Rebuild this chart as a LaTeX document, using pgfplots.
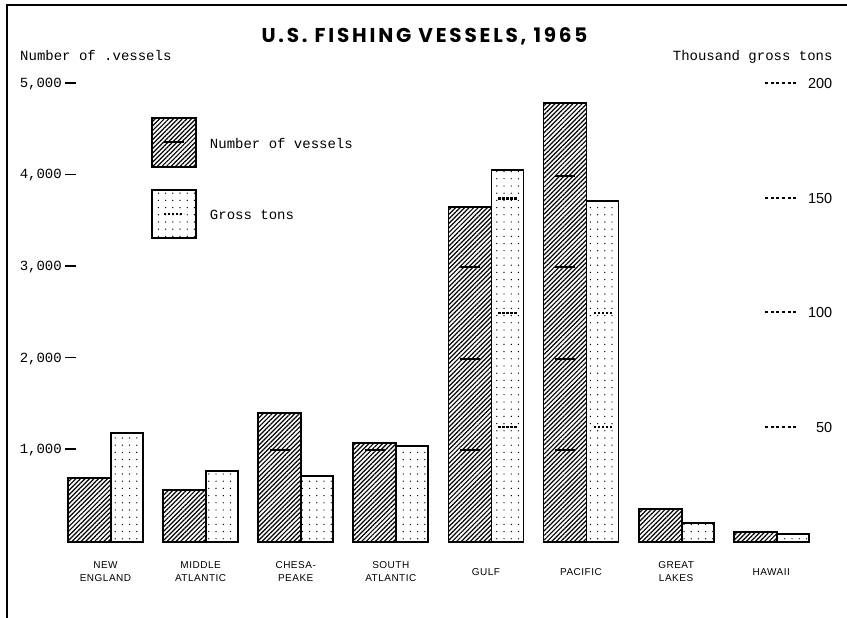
\documentclass[border=0pt]{standalone}
\usepackage{fontspec}
\usepackage{pgfplots}
\pgfplotsset{compat=1.18}
\usetikzlibrary{patterns.meta}
\newfontfamily\monofont{Liberation Mono}
\newfontfamily\sansfont{Liberation Sans}
\newfontfamily\catfont{Liberation Sans}[LetterSpace=5]
\newfontfamily\titlefont{Poppins}[LetterSpace=14]
\newcommand\monof{\monofont\fontsize{14bp}{16bp}\selectfont}
\newcommand\catf{\catfont\fontsize{10bp}{13.3bp}\selectfont}
\newcommand\rnumf{\sansfont\fontsize{14.5bp}{16bp}\selectfont}
\newcommand\ldash{\hspace{3bp}\rule[3.8bp]{11bp}{1.6bp}}
\newcommand\rdot{\rule[4.5bp]{2.8bp}{2.2bp}\hspace{2.84bp}}
\newcommand\rdots{\rdot\rdot\rdot\rdot\rdot\rule[4.5bp]{2.8bp}{2.2bp}}
\newcommand\rlab[1]{\makebox[67bp]{\rdots\hfill#1}}
\tikzset{
  hatchbar/.style={draw=black, line width=1.8bp, pattern={Lines[angle=45,distance=3.2bp,line width=1.2bp]}, pattern color=black},
  dotbar/.style={draw=black, line width=1.8bp, pattern={Dots[distance=7.2bp,radius=0.7bp]}, pattern color=black},
}
\pgfplotsset{
  common/.style={
    scale only axis, width=736bp, height=457.7bp,
    at={(76bp,76.3bp)}, anchor=south west,
    xmin=-0.36803, xmax=7.37119, ymin=0, clip=false,
    axis line style={draw=none}, major tick length=0pt,
    ybar,
  },
}
\begin{document}
\begin{tikzpicture}
\begin{axis}[common,
  ymax=5000,
  ytick={1000,2000,3000,4000,5000},
  yticklabels={{1,000\ldash},{2,000\ldash},{3,000\ldash},{4,000\ldash},{5,000\ldash}},
  yticklabel style={font=\monof, anchor=east, inner sep=0pt},
  xtick={0,1,2,3,4,5,6,7},
  xticklabels={{NEW\\ENGLAND},{MIDDLE\\ATLANTIC},{CHESA-\\PEAKE},{SOUTH\\ATLANTIC},{GULF},{PACIFIC},{GREAT\\LAKES},{HAWAII}},
  xticklabel style={font=\catf, align=center, anchor=center, inner sep=0pt, xshift=-5.5bp, yshift=-30bp},
]
\addplot[hatchbar, bar width=43bp, bar shift=-21.5bp] coordinates {
  (0,693) (1,565) (2,1406) (3,1075) (4,3660) (5,4796) (6,357) (7,103)};
\addplot[only marks, mark=-, mark size=10bp, mark options={line width=2bp, black}] coordinates {
  (1.7739,1000) (2.7739,1000) (3.7739,1000) (3.7739,2000) (3.7739,3000)
  (4.7739,1000) (4.7739,2000) (4.7739,3000) (4.7739,4000)};
\end{axis}
\begin{axis}[common,
  ymax=200,
  ytick={50,100,150,200},
  yticklabels={\rlab{50},\rlab{100},\rlab{150},\rlab{200}},
  yticklabel pos=right,
  yticklabel style={font=\rnumf, anchor=west, inner sep=0pt, xshift=-47bp},
  xtick=\empty,
  legend cell align=left,
  legend style={at={(rel axis cs:0.10190,0.9279)}, anchor=north west, draw=none, fill=none,
    inner sep=0pt, row sep=21.3bp, column sep=13bp, font=\monof, nodes={inner sep=0pt}},
]
\addplot[dotbar, bar width=32bp, bar shift=16bp, forget plot] coordinates {
  (0,47.4) (1,30.9) (2,28.8) (3,41.9) (4,162.4) (5,149.0) (6,8.0) (7,3.5)};
\addplot[only marks, mark=-, mark size=9.5bp, forget plot,
  mark options={line width=2.2bp, black, dash pattern=on 2.4bp off 1.6bp}] coordinates {
  (4.1682,50) (4.1682,100) (4.1682,150) (5.1682,50) (5.1682,100)};
\addlegendimage{legend image code/.code={
  \draw[hatchbar] (0bp,-22.7bp) rectangle (44bp,25.9bp);
  \draw[line width=2bp, black] (12bp,1.5bp) -- (32bp,1.5bp);}}
\addlegendentry{Number of vessels}
\addlegendimage{legend image code/.code={
  \draw[dotbar] (0bp,-22.7bp) rectangle (44bp,25.9bp);
  \draw[line width=2.2bp, black, dash pattern=on 2.4bp off 1.6bp] (12bp,1.5bp) -- (32bp,1.5bp);}}
\addlegendentry{Gross tons}
\end{axis}
\node[font=\titlefont\bfseries\fontsize{20bp}{22bp}\selectfont, anchor=base] at (424.5bp,575bp) {U.S. FISHING VESSELS, 1965};
\node[font=\monof, anchor=base west, inner sep=0pt] at (20bp,557bp) {Number of .vessels};
\node[font=\monof, anchor=base east, inner sep=0pt] at (832.7bp,557bp) {Thousand gross tons};
\draw[line width=1.5bp] (7bp,0bp) -- (7bp,613bp) -- (847bp,613bp);
\pgfresetboundingbox
\useasboundingbox (0,0) rectangle (847bp,618bp);
\end{tikzpicture}
\end{document}
